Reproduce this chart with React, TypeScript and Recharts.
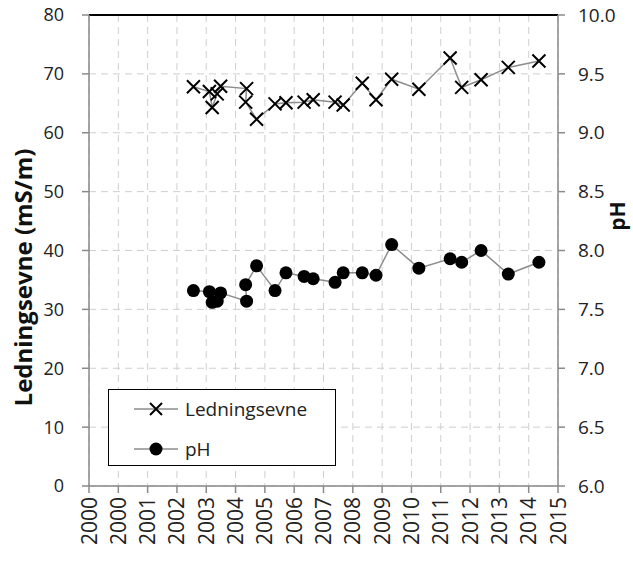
import React from 'react';
import {
  CartesianGrid,
  Legend,
  Line,
  LineChart,
  ReferenceLine,
  XAxis,
  YAxis,
} from 'recharts';

// sample dates (decimal years), in drawing order
const years = [
  2003.34, 2003.85, 2003.94, 2004.1, 2004.21, 2005.04, 2005.01, 2005.36, 2005.95, 2006.3, 2006.88, 2007.17,
  2007.87, 2008.13, 2008.74, 2009.18, 2009.68, 2010.55, 2011.55, 2011.92, 2012.54, 2013.41, 2014.39,
];
const ledningsevne = [
  67.8, 67.0, 64.3, 66.6, 67.9, 67.5, 65.2, 62.3, 64.9, 65.1, 65.2, 65.6, 65.2, 64.7, 68.4, 65.6, 69.1, 67.4,
  72.7, 67.7, 69.0, 71.1, 72.2,
];
const ph = [
  7.66, 7.65, 7.56, 7.57, 7.64, 7.57, 7.71, 7.87, 7.66, 7.81, 7.78, 7.76, 7.73, 7.81, 7.81, 7.79, 8.05, 7.85,
  7.93, 7.9, 8.0, 7.8, 7.9,
];

const xTickLabels = [
  '2000', '2000', '2001', '2002', '2003', '2004', '2005', '2006', '2007', '2008', '2009', '2010', '2011',
  '2012', '2013', '2014', '2015',
];
const leftTicks = [0, 10, 20, 30, 40, 50, 60, 70, 80];
const minorTicks = [5, 15, 25, 35, 45, 55, 65, 75];
const rightTicks = [6, 6.5, 7, 7.5, 8, 8.5, 9, 9.5, 10];
const legendItems = ['Ledningsevne', 'pH'];

const X_MIN = 2000;
const X_MAX = 2015;
const xTicks = xTickLabels.map((_, i) => X_MIN + (i * (X_MAX - X_MIN)) / (xTickLabels.length - 1));

const data = years.map((year, i) => ({ year, ledningsevne: ledningsevne[i], ph: ph[i] }));

const FONT = '"Open Sans", sans-serif';
const AXIS = '#8a8a8a';

function XTick(props: any) {
  const { x, y, index } = props;
  return (
    <text
      x={x}
      y={y}
      transform={`rotate(-90, ${x}, ${y})`}
      textAnchor="end"
      dy="0.36em"
      fontSize={21}
      fontFamily={FONT}
      fill="#222"
    >
      {xTickLabels[index]}
    </text>
  );
}

function XMark(props: any) {
  const { cx, cy, index } = props;
  const s = 6.5;
  return (
    <path
      key={`x-${index}`}
      d={`M${cx - s},${cy - s}L${cx + s},${cy + s}M${cx + s},${cy - s}L${cx - s},${cy + s}`}
      stroke="#000"
      strokeWidth={2}
      fill="none"
    />
  );
}

function LegendBox() {
  return (
    <div
      style={{
        width: 228,
        height: 77,
        boxSizing: 'border-box',
        border: '1.5px solid #000',
        background: '#fff',
        paddingTop: 4,
        fontFamily: FONT,
        fontSize: 19,
        color: '#222',
      }}
    >
      {legendItems.map((name, i) => (
        <div key={name} style={{ display: 'flex', alignItems: 'center', height: 30, marginTop: i ? 10 : 0 }}>
          <svg width={70} height={20} style={{ marginLeft: 19 }}>
            <line x1={6} y1={10} x2={50} y2={10} stroke="#8c8c8c" strokeWidth={1.5} />
            {i === 0 ? (
              <path d="M22,4L34,16M34,4L22,16" stroke="#000" strokeWidth={2} />
            ) : (
              <circle cx={28} cy={10} r={6.5} fill="#000" />
            )}
          </svg>
          <span style={{ marginLeft: -13 }}>{name}</span>
        </div>
      ))}
    </div>
  );
}

export default function App() {
  return (
    <div style={{ position: 'absolute', left: 0, top: 0, width: 633, height: 565, background: '#fff' }}>
      <LineChart width={633} height={565} data={data} margin={{ top: 15, right: 0, bottom: 0, left: 0 }}>
        <CartesianGrid yAxisId="minor" vertical={false} stroke="#e6e6e6" strokeWidth={1} />
        <CartesianGrid yAxisId="left" strokeDasharray="7 5" stroke="#cfcfcf" strokeWidth={1} />
        <XAxis
          dataKey="year"
          type="number"
          domain={[X_MIN, X_MAX]}
          ticks={xTicks}
          interval={0}
          height={79}
          tickSize={7}
          tickMargin={4}
          stroke={AXIS}
          strokeWidth={1.5}
          tick={<XTick />}
        />
        <YAxis yAxisId="minor" domain={[0, 80]} ticks={minorTicks} hide />
        <YAxis
          yAxisId="left"
          domain={[0, 80]}
          ticks={leftTicks}
          interval={0}
          width={89}
          tickSize={7}
          tickMargin={18}
          stroke={AXIS}
          strokeWidth={1.5}
          tick={{ fill: '#222', fontSize: 18, fontFamily: FONT }}
          label={({ viewBox }: any) => (
            <text
              x={viewBox.x + 22}
              y={viewBox.y + viewBox.height / 2 + 27}
              transform={`rotate(-90, ${viewBox.x + 22}, ${viewBox.y + viewBox.height / 2 + 27})`}
              textAnchor="middle"
              dominantBaseline="central"
              fontSize={24}
              fontWeight="bold"
              fontFamily={FONT}
              fill="#111"
            >
              Ledningsevne (mS/m)
            </text>
          )}
        />
        <YAxis
          yAxisId="right"
          orientation="right"
          domain={[6, 10]}
          ticks={rightTicks}
          interval={0}
          width={75}
          tickSize={7}
          tickMargin={13}
          stroke={AXIS}
          strokeWidth={1.5}
          tickFormatter={(v: number) => v.toFixed(1)}
          tick={{ fill: '#222', fontSize: 19, fontFamily: FONT, textAnchor: 'start' }}
          label={({ viewBox }: any) => (
            <text
              x={viewBox.x + 59}
              y={viewBox.y + 201}
              transform={`rotate(-90, ${viewBox.x + 59}, ${viewBox.y + 201})`}
              textAnchor="middle"
              dominantBaseline="central"
              fontSize={21}
              fontWeight="bold"
              fontFamily={FONT}
              fill="#111"
            >
              pH
            </text>
          )}
        />
        <ReferenceLine yAxisId="left" y={80} stroke="#000" strokeWidth={2} />
        <Line
          yAxisId="left"
          dataKey="ledningsevne"
          type="linear"
          stroke="#8c8c8c"
          strokeWidth={1.5}
          dot={(p: any) => <XMark key={`lx-${p.index}`} {...p} />}
          activeDot={false}
          isAnimationActive={false}
        />
        <Line
          yAxisId="right"
          dataKey="ph"
          type="linear"
          stroke="#8c8c8c"
          strokeWidth={1.5}
          dot={{ r: 6.5, fill: '#000', stroke: 'none' }}
          activeDot={false}
          isAnimationActive={false}
        />
        <Legend
          layout="horizontal"
          verticalAlign="middle"
          align="center"
          wrapperStyle={{ left: 108, top: 389, width: 228, height: 77 }}
          content={() => <LegendBox />}
        />
      </LineChart>
    </div>
  );
}
